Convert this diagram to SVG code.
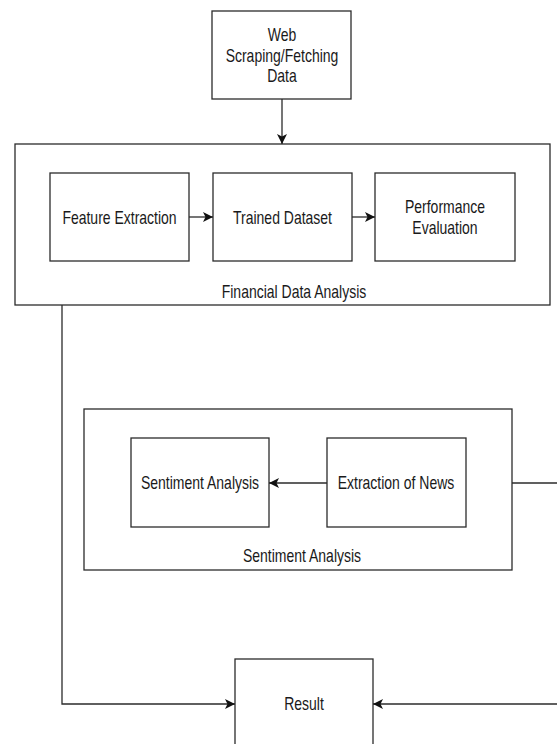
<svg xmlns="http://www.w3.org/2000/svg" width="557" height="744" viewBox="0 0 557 744">
<style>
.box{fill:#fff;stroke:#2b2b2b;stroke-width:1.3}
.t{font-family:"Liberation Sans",Arial,sans-serif;font-size:14px;fill:#1a1a1a;text-anchor:middle}
.c{fill:none;stroke:#2b2b2b;stroke-width:1.3}
</style>
<defs>
<marker id="ah" viewBox="0 0 10 10" refX="10" refY="5" markerWidth="10" markerHeight="10" markerUnits="userSpaceOnUse" orient="auto">
<path d="M0,0 L10,5 L0,10 L2.5,5 z" fill="#111"/>
</marker>
</defs>
<rect width="557" height="744" fill="#fff"/>
<g id="financial-group">
<rect class="box" x="15" y="144" width="535" height="161"/>
<text class="t" transform="translate(294,298) scale(1,1.3)">Financial Data Analysis</text>
</g>
<g id="sentiment-group">
<rect class="box" x="84" y="409" width="428" height="161"/>
<text class="t" transform="translate(302,562) scale(1,1.3)">Sentiment Analysis</text>
</g>
<g id="web">
<rect class="box" x="212" y="11" width="139" height="88"/>
<text class="t" transform="translate(282,41) scale(1,1.3)">Web</text>
<text class="t" transform="translate(282,62) scale(1,1.3)">Scraping/Fetching</text>
<text class="t" transform="translate(282,82) scale(1,1.3)">Data</text>
</g>
<g id="feature">
<rect class="box" x="50" y="173" width="139" height="88"/>
<text class="t" transform="translate(119.5,224) scale(1,1.3)">Feature Extraction</text>
</g>
<g id="trained">
<rect class="box" x="213" y="173" width="139" height="88"/>
<text class="t" transform="translate(282.5,224) scale(1,1.3)">Trained Dataset</text>
</g>
<g id="performance">
<rect class="box" x="375" y="173" width="140" height="88"/>
<text class="t" transform="translate(445,213) scale(1,1.3)">Performance</text>
<text class="t" transform="translate(445,234) scale(1,1.3)">Evaluation</text>
</g>
<g id="sentiment">
<rect class="box" x="131" y="438" width="138" height="89"/>
<text class="t" transform="translate(200,489) scale(1,1.3)">Sentiment Analysis</text>
</g>
<g id="news">
<rect class="box" x="327" y="438" width="139" height="89"/>
<text class="t" transform="translate(396,489) scale(1,1.3)">Extraction of News</text>
</g>
<g id="result">
<rect class="box" x="235" y="659" width="138" height="100"/>
<text class="t" transform="translate(304,710) scale(1,1.3)">Result</text>
</g>
<g id="connectors">
<path class="c" d="M282,99 L282,144" marker-end="url(#ah)"/>
<path class="c" d="M189,217 L213,217" marker-end="url(#ah)"/>
<path class="c" d="M352,217 L375,217" marker-end="url(#ah)"/>
<path class="c" d="M327,483 L269,483" marker-end="url(#ah)"/>
<path class="c" d="M512,483 L557,483"/>
<path class="c" d="M62,305 L62,704 L235,704" marker-end="url(#ah)"/>
<path class="c" d="M557,704 L373,704" marker-end="url(#ah)"/>
</g>
</svg>
